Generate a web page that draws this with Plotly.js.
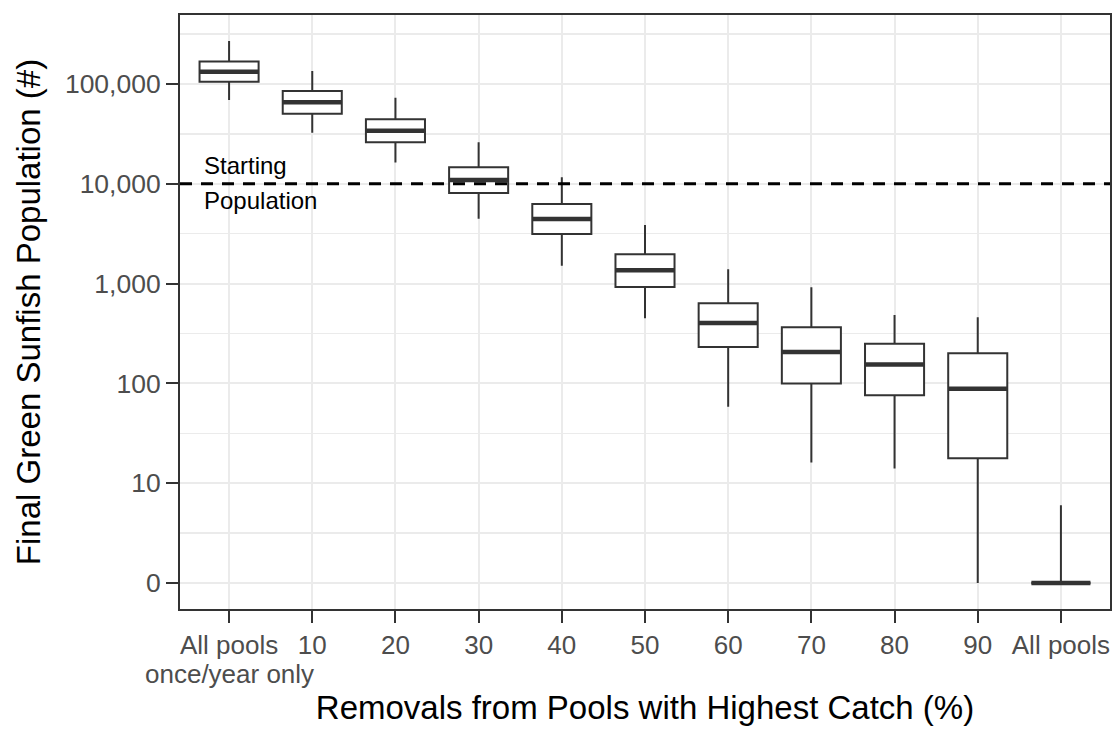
<!DOCTYPE html>
<html>
<head>
<meta charset="utf-8">
<script src="https://cdn.plot.ly/plotly-3.0.1.min.js"></script>
<style>
  html, body { margin: 0; padding: 0; background: #ffffff; }
  #chart { width: 1114px; height: 732px; }
</style>
</head>
<body>
<div id="chart"></div>
<script>
// Removal scenarios (x categories) and their tick labels
const categories = ['All pools once/year only', '10', '20', '30', '40', '50', '60', '70', '80', '90', 'All pools'];
const xTickLabels = ['All pools', '10', '20', '30', '40', '50', '60', '70', '80', '90', 'All pools'];
const firstCategoryNote = 'once/year only';

// Box-plot statistics of final green sunfish population (# fish)
const upperWhisker = [270000, 135000, 72900, 26100, 11600, 3860, 1390, 918, 484, 459, 6];
const q3Values     = [167500, 85100, 44300, 14600, 6280, 1970, 635, 365, 250, 200, 0];
const medianValues = [132700, 65600, 34000, 10900, 4440, 1360, 403, 206, 155, 88.5, 0];
const q1Values     = [105400, 50400, 26100, 8090, 3140, 925, 232, 100, 76, 17.8, 0];
const lowerWhisker = [69200, 32500, 16300, 4470, 1510, 449, 58.4, 16.1, 14.0, 0, 0];

// Starting population reference line
const startingPopulation = 10000;

// Y axis tick values (# fish)
const yTickValues = [0, 10, 100, 1000, 10000, 100000];
const yTickLabels = ['0', '10', '100', '1,000', '10,000', '100,000'];

// Log scale with zero counts placed at the bottom of the axis
const toAxis = n => (n < 1 ? 0 : Math.log10(n));

const tickPos = yTickValues.map(toAxis);
const minorPos = [];
for (let i = 0; i < tickPos.length; i++) {
  const next = i + 1 < tickPos.length ? tickPos[i + 1] : tickPos[i] + (tickPos[i] - tickPos[i - 1]);
  minorPos.push((tickPos[i] + next) / 2);
}

const ink = '#333333';
const labelGrey = '#4D4D4D';
const fontFamily = '"Liberation Sans", Arial, Helvetica, sans-serif';

const boxes = {
  type: 'box',
  x: categories,
  q1: q1Values.map(toAxis),
  median: medianValues.map(toAxis),
  q3: q3Values.map(toAxis),
  lowerfence: lowerWhisker.map(toAxis),
  upperfence: upperWhisker.map(toAxis),
  width: 0.71,
  whiskerwidth: 0,
  boxpoints: false,
  fillcolor: '#ffffff',
  line: { color: ink, width: 2 },
  hoverinfo: 'skip',
  showlegend: false
};

// Bold median bars drawn on top of each box
const medians = {
  type: 'box',
  x: categories,
  q1: medianValues.map(toAxis),
  median: medianValues.map(toAxis),
  q3: medianValues.map(toAxis),
  lowerfence: medianValues.map(toAxis),
  upperfence: medianValues.map(toAxis),
  width: 0.71,
  whiskerwidth: 0,
  boxpoints: false,
  fillcolor: 'rgba(0,0,0,0)',
  line: { color: ink, width: 4.5 },
  hoverinfo: 'skip',
  showlegend: false
};

const startY = toAxis(startingPopulation);

const layout = {
  width: 1114,
  height: 732,
  margin: { l: 180, r: 4, t: 15, b: 123 },
  paper_bgcolor: '#ffffff',
  plot_bgcolor: '#ffffff',
  font: { family: fontFamily, color: '#000000' },
  boxmode: 'overlay',
  showlegend: false,
  xaxis: {
    type: 'category',
    range: [-0.59, 10.59],
    tickmode: 'array',
    tickvals: categories,
    ticktext: xTickLabels,
    tickangle: 0,
    showgrid: true,
    gridcolor: '#EBEBEB',
    gridwidth: 2,
    showline: true,
    mirror: true,
    linecolor: ink,
    linewidth: 2,
    ticks: 'outside',
    ticklen: 12,
    tickwidth: 2,
    tickcolor: ink,
    tickfont: { size: 26, color: labelGrey, family: fontFamily },
    zeroline: false,
    automargin: false,
    title: {
      text: 'Removals from Pools with Highest Catch (%)',
      font: { size: 33, color: '#000000', family: fontFamily },
      standoff: 37
    }
  },
  yaxis: {
    type: 'linear',
    range: [-0.2605, 5.691],
    tickmode: 'array',
    tickvals: tickPos,
    ticktext: yTickLabels,
    showgrid: true,
    gridcolor: '#EBEBEB',
    gridwidth: 2,
    minor: {
      tickmode: 'array',
      tickvals: minorPos,
      showgrid: true,
      gridcolor: '#EBEBEB',
      gridwidth: 1.5,
      ticks: ''
    },
    showline: true,
    mirror: true,
    linecolor: ink,
    linewidth: 2,
    ticks: 'outside',
    ticklen: 12,
    tickwidth: 2,
    tickcolor: ink,
    tickfont: { size: 26.5, color: labelGrey, family: fontFamily },
    zeroline: false,
    automargin: false,
    title: {
      text: 'Final Green Sunfish Population (#)',
      font: { size: 33, color: '#000000', family: fontFamily },
      standoff: 14
    }
  },
  shapes: [
    {
      type: 'line',
      xref: 'paper', yref: 'y',
      x0: 0, x1: 1,
      y0: startY, y1: startY,
      line: { color: '#000000', width: 3, dash: '12px,9px' },
      layer: 'above'
    }
  ],
  annotations: [
    {
      xref: 'paper', yref: 'y',
      x: 0.024, y: startY,
      xanchor: 'left', yanchor: 'bottom',
      yshift: 3,
      text: 'Starting',
      showarrow: false,
      font: { size: 24, color: '#000000', family: fontFamily }
    },
    {
      xref: 'paper', yref: 'y',
      x: 0.024, y: startY,
      xanchor: 'left', yanchor: 'top',
      yshift: -1,
      text: 'Population',
      showarrow: false,
      font: { size: 24, color: '#000000', family: fontFamily }
    },
    {
      // second line of the first category label
      xref: 'x', yref: 'paper',
      x: categories[0], y: -0.109,
      xanchor: 'center', yanchor: 'middle',
      borderpad: 0,
      text: firstCategoryNote,
      showarrow: false,
      font: { size: 26, color: labelGrey, family: fontFamily }
    }
  ]
};

Plotly.newPlot('chart', [boxes, medians], layout, { displayModeBar: false, staticPlot: true });
</script>
</body>
</html>
